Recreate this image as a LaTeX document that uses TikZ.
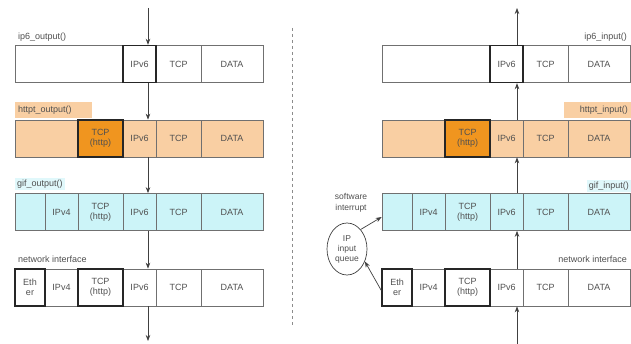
\documentclass[tikz,border=0pt]{standalone}
\usepackage{fontspec}
\setmainfont{Liberation Sans}
\usetikzlibrary{arrows.meta,shapes.geometric}
\definecolor{orangeL}{HTML}{F9CFA3}
\definecolor{orangeD}{HTML}{F0951F}
\definecolor{cyanL}{HTML}{CCF4F8}
\definecolor{lineG}{HTML}{707070}
\definecolor{textG}{HTML}{505050}
\tikzset{
  cell/.style={draw=lineG, line width=0.7pt, minimum height=37pt, inner sep=0pt,
    font=\fontsize{9}{10}\selectfont, text=textG, align=center},
  hl/.style={draw=black!85, line width=1.4pt},
  org/.style={fill=orangeL}, dorg/.style={fill=orangeD}, cyn/.style={fill=cyanL}, wht/.style={fill=white},
  flow/.style={draw=black!75, line width=0.7pt, -{Stealth[length=6pt,width=4.5pt]}},
  lbl/.style={font=\fontsize{9}{10}\selectfont, text=textG, inner sep=2pt},
}
\newcommand{\pcell}[6]{\node[cell,#5,minimum width={(#3-#2)*1pt}] (#1) at ({(#2+#3)/2},#4) {#6};}
\begin{document}
\begin{tikzpicture}[x=1pt,y=-1pt]
\useasboundingbox (0,0) rectangle (631,344);
\fill[white] (0,0) rectangle (631,344);
% ---------- left side ----------
% row 1
\pcell{L1a}{15}{123}{64}{wht}{}
\pcell{L1e}{156}{201}{64}{wht}{TCP}
\pcell{L1f}{201}{263}{64}{wht}{DATA}
\pcell{L1v}{123}{156}{64}{wht,hl}{IPv6}
% row 2
\pcell{L2a}{15}{78}{138.5}{org}{}
\pcell{L2v}{123}{156}{138.5}{org}{IPv6}
\pcell{L2e}{156}{201}{138.5}{org}{TCP}
\pcell{L2f}{201}{263}{138.5}{org}{DATA}
\pcell{L2t}{78}{123}{138.5}{dorg,hl}{TCP\\(http)}
% row 3
\pcell{L3a}{15}{45}{212}{cyn}{}
\pcell{L3b}{45}{78}{212}{cyn}{IPv4}
\pcell{L3t}{78}{123}{212}{cyn}{TCP\\(http)}
\pcell{L3v}{123}{156}{212}{cyn}{IPv6}
\pcell{L3e}{156}{201}{212}{cyn}{TCP}
\pcell{L3f}{201}{263}{212}{cyn}{DATA}
% row 4
\pcell{L4b}{45}{78}{287.5}{wht}{IPv4}
\pcell{L4v}{123}{156}{287.5}{wht}{IPv6}
\pcell{L4e}{156}{201}{287.5}{wht}{TCP}
\pcell{L4f}{201}{263}{287.5}{wht}{DATA}
\pcell{L4a}{15}{45}{287.5}{wht,hl}{Eth\\er}
\pcell{L4t}{78}{123}{287.5}{wht,hl}{TCP\\(http)}
% labels
\node[lbl,anchor=west] (Llab1) at (16,37) {ip6\_output()};
\node[lbl,anchor=west,fill=orangeL,minimum width=77pt,minimum height=16pt,text width=71pt,align=left] (Llab2) at (15,110) {httpt\_output()};
\node[lbl,anchor=west,fill=cyanL!60] (Llab3) at (15,184) {gif\_output()};
\node[lbl,anchor=west] (Llab4) at (16,259) {network interface};
% arrows
\coordinate (lt) at (148,8);
\coordinate (lb) at (148,341);
\draw[flow] (lt) -- (lt |- L1v.north);
\draw[flow] (lt |- L1v.south) -- (lt |- L2v.north);
\draw[flow] (lt |- L2v.south) -- (lt |- L3v.north);
\draw[flow] (lt |- L3v.south) -- (lt |- L4v.north);
\draw[flow] (lt |- L4v.south) -- (lb);
% divider
\coordinate (dt) at (292,28);
\coordinate (db) at (292,325);
\draw[black!45, dashed, line width=0.6pt] (dt) -- (db);
% ---------- right side ----------
% row 1
\pcell{R1a}{382}{490}{64}{wht}{}
\pcell{R1e}{523}{568}{64}{wht}{TCP}
\pcell{R1f}{568}{630}{64}{wht}{DATA}
\pcell{R1v}{490}{523}{64}{wht,hl}{IPv6}
% row 2
\pcell{R2a}{382}{445}{138.5}{org}{}
\pcell{R2v}{490}{523}{138.5}{org}{IPv6}
\pcell{R2e}{523}{568}{138.5}{org}{TCP}
\pcell{R2f}{568}{630}{138.5}{org}{DATA}
\pcell{R2t}{445}{490}{138.5}{dorg,hl}{TCP\\(http)}
% row 3
\pcell{R3a}{382}{412}{212}{cyn}{}
\pcell{R3b}{412}{445}{212}{cyn}{IPv4}
\pcell{R3t}{445}{490}{212}{cyn}{TCP\\(http)}
\pcell{R3v}{490}{523}{212}{cyn}{IPv6}
\pcell{R3e}{523}{568}{212}{cyn}{TCP}
\pcell{R3f}{568}{630}{212}{cyn}{DATA}
% row 4
\pcell{R4b}{412}{445}{287.5}{wht}{IPv4}
\pcell{R4v}{490}{523}{287.5}{wht}{IPv6}
\pcell{R4e}{523}{568}{287.5}{wht}{TCP}
\pcell{R4f}{568}{630}{287.5}{wht}{DATA}
\pcell{R4a}{382}{412}{287.5}{wht,hl}{Eth\\er}
\pcell{R4t}{445}{490}{287.5}{wht,hl}{TCP\\(http)}
% labels
\node[lbl,anchor=east] (Rlab1) at (629,37) {ip6\_input()};
\node[lbl,anchor=east,fill=orangeL,minimum width=67pt,minimum height=16pt,text width=61pt,align=right] (Rlab2) at (631,110) {httpt\_input()};
\node[lbl,anchor=east,fill=cyanL!60] (Rlab3) at (631,186) {gif\_input()};
\node[lbl,anchor=east] (Rlab4) at (629,259) {network interface};
% arrows
\coordinate (rt) at (517,8);
\coordinate (rb) at (517,344);
\draw[flow] (rb) -- (rb |- R4v.south);
\draw[flow] (rb |- R4v.north) -- (rb |- R3v.south);
\draw[flow] (rb |- R3v.north) -- (rb |- R2v.south);
\draw[flow] (rb |- R2v.north) -- (rb |- R1v.south);
\draw[flow] (rb |- R1v.north) -- (rt);
% IP input queue
\node[ellipse, draw=black!75, line width=0.7pt, minimum width=40pt, minimum height=52pt, inner sep=0pt,
  font=\fontsize{8.5}{10}\selectfont, text=textG, align=center] (q) at (347,249) {IP\\input\\queue};
\node[lbl, align=center, font=\fontsize{8.5}{11}\selectfont] (si) at (351,203) {software\\interrupt};
\coordinate (r3in) at ([yshift=-5pt]R3a.west);
\draw[flow] (q.55) -- (r3in);
\coordinate (r4out) at ([yshift=-3pt]R4a.west);
\draw[flow] (r4out) -- (q.-35);
\end{tikzpicture}
\end{document}
